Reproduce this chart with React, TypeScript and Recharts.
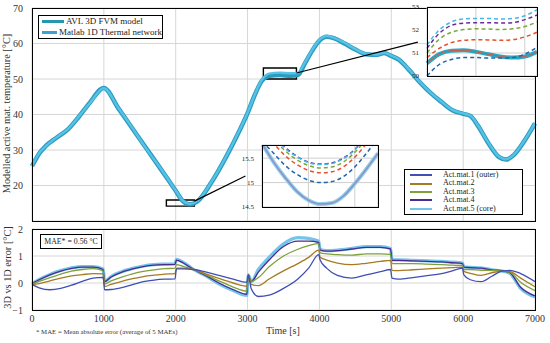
import React from "react";
import {
  LineChart,
  Line,
  XAxis,
  YAxis,
  CartesianGrid,
  ReferenceArea,
  ReferenceLine,
} from "recharts";

const FONT = "'Liberation Serif', 'DejaVu Serif', serif";

// ---- top panel: modelled temperature ----
const timeTop = [
  0, 50, 100, 200, 350, 500, 650, 800, 1000, 1200, 1400, 1600, 1800, 2000, 2100, 2200, 2300, 2500,
  2700, 2900, 3000, 3100, 3200, 3300, 3450, 3600, 3700, 3800, 3900, 4000, 4100, 4200, 4350, 4500,
  4650, 4800, 4900, 5000, 5100, 5250, 5400, 5550, 5700, 5850, 6000, 6100, 6200, 6350, 6500, 6600,
  6700, 6850, 7000,
];
const avlTemp = [
  25.5, 27.3, 29.0, 31.3, 33.6, 35.8, 39.3, 43.2, 47.5, 41.8, 36, 30.2, 24.4, 18.5, 15.6, 14.7, 15.5, 21,
  28, 36, 40.4, 45.5, 49.5, 50.9, 51.1, 50.9, 51.1, 54.5, 58, 60.8, 61.9, 61.5, 60, 58.3,
  57, 56.8, 57.3, 56.5, 55.5, 52.5, 49, 46, 43.5, 41.2, 40.2, 39.6, 37, 32, 28, 27.3,
  28.5, 32.5, 37.5,
];
const matlabTemp = [
  25.6, 27.4, 29.1, 31.2, 33.7, 35.9, 39.4, 43.1, 47.4, 41.9, 36.1, 30.1, 24.5, 18.6, 15.7, 14.8, 15.6, 21.1,
  28.1, 36.1, 40.5, 45.6, 49.8, 51.5, 51.8, 51.6, 51.7, 54.7, 58.2, 61.0, 62.1, 61.6, 60.2, 58.4,
  57.1, 56.9, 57.4, 56.6, 55.6, 52.6, 49.1, 46.1, 43.6, 41.3, 40.3, 39.7, 37.1, 32.1, 28.1, 27.4,
  28.6, 32.6, 37.6,
];

// ---- top-right inset (around t = 3250..3700 s) ----
const timeInsetA = [3250, 3300, 3350, 3400, 3450, 3500, 3550, 3600, 3650, 3700];
const insA_avl = [50.55, 50.95, 51.1, 51.12, 51.05, 50.95, 50.85, 50.8, 50.85, 51.05];
const insA_m1 = [50.0, 50.5, 50.72, 50.8, 50.8, 50.78, 50.78, 50.8, 50.95, 51.25];
const insA_m2 = [50.8, 51.2, 51.45, 51.55, 51.58, 51.57, 51.55, 51.58, 51.7, 51.9];
const insA_m3 = [51.0, 51.6, 51.9, 52.02, 52.05, 52.04, 52.02, 52.05, 52.15, 52.35];
const insA_m4 = [51.2, 51.85, 52.2, 52.3, 52.32, 52.32, 52.3, 52.32, 52.45, 52.65];
const insA_m5 = [51.35, 52.0, 52.35, 52.48, 52.5, 52.5, 52.48, 52.5, 52.62, 52.88];

// ---- lower inset (around t = 2100..2350 s) ----
const timeInsetB = [2100, 2125, 2150, 2175, 2200, 2225, 2250, 2275, 2300, 2325, 2350];
const insB_avl = [15.8, 15.42, 15.1, 14.82, 14.64, 14.56, 14.58, 14.72, 14.98, 15.28, 15.6];
const insB_m1 = [15.85, 15.6, 15.35, 15.17, 15.05, 15.0, 15.02, 15.12, 15.32, 15.6, 15.9];
const insB_m2 = [16.05, 15.8, 15.55, 15.37, 15.25, 15.2, 15.22, 15.32, 15.52, 15.8, 16.1];
const insB_m3 = [16.15, 15.9, 15.65, 15.47, 15.35, 15.3, 15.32, 15.42, 15.62, 15.9, 16.2];
const insB_m4 = [16.2, 15.95, 15.72, 15.54, 15.42, 15.38, 15.4, 15.5, 15.68, 15.95, 16.25];
const insB_m5 = [16.2, 15.95, 15.7, 15.53, 15.41, 15.37, 15.39, 15.49, 15.67, 15.94, 16.24];

// ---- bottom panel: 3D vs 1D error ----
const timeErr = [
  0, 100, 250, 400, 550, 700, 850, 990, 1010, 1100, 1250, 1400, 1550, 1700, 1850, 1990, 2010, 2100,
  2250, 2400, 2600, 2800, 2990, 3010, 3050, 3150, 3300, 3500, 3700, 3850, 3990, 4010, 4100, 4250,
  4450, 4650, 4850, 4990, 5010, 5100, 5300, 5500, 5700, 5850, 5990, 6010, 6100, 6250, 6400, 6550,
  6650, 6800, 7000,
];
const errMat1 = [
  -0.05, -0.18, -0.25, -0.2, -0.08, 0.06, 0.18, 0.21, -0.25, -0.24, -0.17, -0.06, 0.05, 0.11, 0.14, 0.15, 0.52, 0.52,
  0.5, 0.42, 0.28, 0.14, 0.03, 0.3, -0.2, -0.5, -0.45, -0.2, 0.15, 0.55, 1.05, 0.85, 0.55, 0.28,
  0.18, 0.3, 0.42, 0.5, 0.18, 0.14, 0.2, 0.27, 0.35, 0.45, 0.55, 0.3, 0.12, 0.05, 0.25, 0.45,
  0.47, 0.35, 0.05,
];
const errMat2 = [
  -0.05, -0.02, 0.08, 0.18, 0.26, 0.31, 0.35, 0.34, -0.13, -0.05, 0.06, 0.16, 0.24, 0.29, 0.33, 0.35, 0.55, 0.55,
  0.5, 0.36, 0.17, 0.0, -0.12, 0.3, -0.05, -0.1, 0.15, 0.45, 0.72, 0.95, 1.22, 0.95, 0.85, 0.74,
  0.68, 0.73, 0.8, 0.84, 0.47, 0.46, 0.49, 0.52, 0.55, 0.57, 0.59, 0.43, 0.36, 0.28, 0.38, 0.43,
  0.42, 0.18, -0.14,
];
const errMat3 = [
  -0.04, 0.06, 0.2, 0.33, 0.44, 0.5, 0.53, 0.45, -0.04, 0.08, 0.22, 0.34, 0.43, 0.49, 0.53, 0.55, 0.68, 0.62,
  0.5, 0.33, 0.08, -0.15, -0.3, 0.3, 0.05, 0.2, 0.6, 1.0, 1.25, 1.38, 1.47, 1.12, 1.08, 1.05,
  1.03, 1.08, 1.08, 1.06, 0.72, 0.72, 0.72, 0.7, 0.68, 0.66, 0.65, 0.5, 0.5, 0.47, 0.47, 0.44,
  0.4, 0.03, -0.28,
];
const errMat4 = [
  -0.02, 0.12, 0.3, 0.44, 0.54, 0.59, 0.59, 0.5, 0.05, 0.22, 0.4, 0.52, 0.61, 0.66, 0.68, 0.69, 0.85, 0.75,
  0.5, 0.3, 0.0, -0.25, -0.42, 0.3, 0.05, 0.4, 0.85, 1.35, 1.55, 1.55, 1.5, 1.22, 1.18, 1.2,
  1.26, 1.32, 1.32, 1.26, 0.84, 0.84, 0.82, 0.8, 0.78, 0.75, 0.72, 0.59, 0.57, 0.55, 0.49, 0.45,
  0.38, -0.16, -0.48,
];
const errMat5 = [
  -0.03, 0.13, 0.32, 0.46, 0.56, 0.61, 0.61, 0.52, 0.06, 0.24, 0.42, 0.54, 0.63, 0.68, 0.7, 0.71, 0.88, 0.77,
  0.5, 0.29, -0.03, -0.28, -0.46, 0.3, 0.05, 0.5, 0.95, 1.45, 1.68, 1.65, 1.55, 1.24, 1.2, 1.22,
  1.28, 1.35, 1.35, 1.28, 0.86, 0.86, 0.84, 0.82, 0.8, 0.77, 0.74, 0.6, 0.58, 0.56, 0.49, 0.44,
  0.36, -0.2, -0.52,
];

const timeTicks = [0, 1000, 2000, 3000, 4000, 5000, 6000, 7000];
const tempTicks = [10, 20, 30, 40, 50, 60, 70];
const errTicks = [-1, 0, 1, 2];
const matLabels = ["Act.mat.1 (outer)", "Act.mat.2", "Act.mat.3", "Act.mat.4", "Act.mat.5 (core)"];
const matColors = ["#3f4fb5", "#a57a22", "#7fa03a", "#4a2c8f", "#74c4ec"];
const insetColors = ["#1f64b0", "#e6502c", "#7aa83a", "#6a2a9a", "#45b9e3"];

const topData = timeTop.map((t, i) => ({ t, avl: avlTemp[i], matlab: matlabTemp[i] }));
const errData = timeErr.map((t, i) => ({
  t,
  m1: errMat1[i],
  m2: errMat2[i],
  m3: errMat3[i],
  m4: errMat4[i],
  m5: errMat5[i],
}));
const insAData = timeInsetA.map((t, i) => ({
  t,
  avl: insA_avl[i],
  m1: insA_m1[i],
  m2: insA_m2[i],
  m3: insA_m3[i],
  m4: insA_m4[i],
  m5: insA_m5[i],
}));
const insBData = timeInsetB.map((t, i) => ({
  t,
  avl: insB_avl[i],
  m1: insB_m1[i],
  m2: insB_m2[i],
  m3: insB_m3[i],
  m4: insB_m4[i],
  m5: insB_m5[i],
}));

const tickStyle = { fontSize: 10, fill: "#333", fontFamily: FONT };
const small = { fontSize: 7, fill: "#222", fontFamily: FONT };
const minus = (v: number) => String(v).replace("-", "\u2212");

const abs = (left: number, top: number): React.CSSProperties => ({ position: "absolute", left, top });
const frame = (left: number, top: number, width: number, height: number): React.CSSProperties => ({
  position: "absolute",
  left,
  top,
  width,
  height,
  border: "1.4px solid #000",
  boxSizing: "border-box",
  pointerEvents: "none",
});

const dashed = (key: string, color: string) => (
  <Line key={key} type="monotone" dataKey={key} stroke={color} strokeWidth={1.5} strokeDasharray="4 3" dot={false} isAnimationActive={false} />
);

export default function App() {
  return (
    <div style={{ position: "absolute", left: 0, top: 0, width: 550, height: 343, background: "#fff", fontFamily: FONT }}>
      {/* main temperature panel */}
      <div style={abs(0, 0)}>
        <LineChart width={550} height={221} data={topData} margin={{ top: 8, right: 15, bottom: 0, left: 0 }}>
          <CartesianGrid stroke="#d6d6d6" strokeWidth={1} />
          <XAxis dataKey="t" type="number" domain={[0, 7000]} ticks={timeTicks} hide />
          <YAxis type="number" domain={[10, 70]} ticks={tempTicks} width={32} tick={tickStyle} tickLine={false} axisLine={false} tickMargin={3} />
          <Line type="monotone" dataKey="avl" stroke="#2b9bbf" strokeWidth={4.5} dot={false} isAnimationActive={false} />
          <Line type="monotone" dataKey="matlab" stroke="#56c2e6" strokeWidth={2.4} dot={false} isAnimationActive={false} />
          <ReferenceArea x1={3220} x2={3680} y1={50} y2={53.1} fill="#fff" fillOpacity={0} stroke="#000" strokeWidth={1.4} />
          <ReferenceArea x1={1870} x2={2260} y1={14.2} y2={15.9} fill="#fff" fillOpacity={0} stroke="#000" strokeWidth={1.4} />
          <ReferenceLine segment={[{ x: 3680, y: 51.7 }, { x: 5370, y: 60.4 }]} stroke="#000" strokeWidth={1.2} />
          <ReferenceLine segment={[{ x: 2260, y: 15.6 }, { x: 2970, y: 22.7 }]} stroke="#000" strokeWidth={1.2} />
        </LineChart>
      </div>
      <div style={frame(32, 8, 504, 214)} />

      {/* error panel */}
      <div style={abs(0, 0)}>
        <LineChart width={550} height={332} data={errData} margin={{ top: 229, right: 15, bottom: 0, left: 0 }}>
          <CartesianGrid stroke="#d6d6d6" strokeWidth={1} />
          <XAxis dataKey="t" type="number" domain={[0, 7000]} ticks={timeTicks} height={22} tick={tickStyle} tickLine={false} tickSize={3} axisLine={false} />
          <YAxis type="number" domain={[-1, 2]} ticks={errTicks} width={32} tick={tickStyle} tickFormatter={minus} tickLine={false} axisLine={false} tickMargin={3} />
          <Line type="monotone" dataKey="m5" stroke={matColors[4]} strokeWidth={3.2} dot={false} isAnimationActive={false} />
          <Line type="monotone" dataKey="m4" stroke={matColors[3]} strokeWidth={1.3} dot={false} isAnimationActive={false} />
          <Line type="monotone" dataKey="m3" stroke={matColors[2]} strokeWidth={1.3} dot={false} isAnimationActive={false} />
          <Line type="monotone" dataKey="m2" stroke={matColors[1]} strokeWidth={1.3} dot={false} isAnimationActive={false} />
          <Line type="monotone" dataKey="m1" stroke={matColors[0]} strokeWidth={1.3} dot={false} isAnimationActive={false} />
        </LineChart>
      </div>
      <div style={frame(32, 229, 504, 82)} />

      {/* top-right inset */}
      <div style={abs(405, 0)}>
        <LineChart width={140} height={86} data={insAData} margin={{ top: 7, right: 8, bottom: 10, left: 0 }}>
          <CartesianGrid stroke="#cfcfcf" fill="#fff" />
          <XAxis dataKey="t" type="number" domain={[3250, 3700]} ticks={[3350, 3450, 3550, 3650]} hide />
          <YAxis type="number" domain={[50, 53]} ticks={[50, 51, 52, 53]} width={22} tick={small} tickLine={false} axisLine={false} tickMargin={2} allowDataOverflow />
          <Line type="monotone" dataKey="avl" stroke="#2aa8c0" strokeWidth={4} dot={false} isAnimationActive={false} />
          <Line type="monotone" dataKey="avl" stroke="#d8574a" strokeWidth={1} dot={false} isAnimationActive={false} />
          {dashed("m1", insetColors[0])}
          {dashed("m2", insetColors[1])}
          {dashed("m3", insetColors[2])}
          {dashed("m4", insetColors[3])}
          {dashed("m5", insetColors[4])}
        </LineChart>
      </div>
      <div style={frame(427, 7, 111, 70)} />

      {/* lower inset */}
      <div style={abs(236, 0)}>
        <LineChart width={147} height={217} data={insBData} margin={{ top: 145, right: 5, bottom: 10, left: 0 }}>
          <CartesianGrid stroke="#cfcfcf" fill="#fff" />
          <XAxis dataKey="t" type="number" domain={[2100, 2350]} ticks={[2150, 2200, 2250, 2300]} hide />
          <YAxis type="number" domain={[14.5, 15.77]} ticks={[14.5, 15, 15.5]} width={26} tick={small} tickLine={false} axisLine={false} tickMargin={2} allowDataOverflow />
          <Line type="monotone" dataKey="avl" stroke="#8fd0ea" strokeWidth={4} dot={false} isAnimationActive={false} />
          <Line type="monotone" dataKey="avl" stroke="#8c92c8" strokeWidth={1.6} dot={false} isAnimationActive={false} />
          {dashed("m1", insetColors[0])}
          {dashed("m2", insetColors[1])}
          {dashed("m3", insetColors[2])}
          {dashed("m4", insetColors[3])}
          {dashed("m5", insetColors[4])}
        </LineChart>
      </div>
      <div style={frame(262, 145, 117, 63)} />

      {/* model legend */}
      <div style={{ ...abs(38, 15), width: 123, height: 22, border: "1.5px solid #000", background: "#fff", fontSize: 9, lineHeight: "11px", whiteSpace: "nowrap" }}>
        {[["AVL 3D FVM model", "#2596ad"], ["Matlab 1D Thermal network", "#3aa3d4"]].map(([label, c]) => (
          <div key={label} style={{ display: "flex", alignItems: "center", height: 11 }}>
            <span style={{ display: "inline-block", width: 22, height: 2.5, background: c, marginLeft: 3, marginRight: 2 }} />
            <span style={{ color: "#222" }}>{label}</span>
          </div>
        ))}
      </div>

      {/* material legend */}
      <div style={{ ...abs(404, 169), width: 117, height: 43, border: "1.5px solid #000", background: "#fff", fontSize: 8, lineHeight: "8.4px", whiteSpace: "nowrap", paddingTop: 1, boxSizing: "content-box" }}>
        {matLabels.map((label, i) => (
          <div key={label} style={{ display: "flex", alignItems: "center", height: 8.4 }}>
            <span style={{ display: "inline-block", width: 22, height: 2, background: matColors[i], marginLeft: 5, marginRight: 11 }} />
            <span style={{ color: "#222" }}>{label}</span>
          </div>
        ))}
      </div>

      {/* MAE box */}
      <div style={{ ...abs(40, 234), width: 60, height: 13, border: "1.5px solid #000", background: "#fff", fontSize: 7.8, lineHeight: "13px", textAlign: "center", color: "#222", whiteSpace: "nowrap" }}>
        MAE* = 0.56 °C
      </div>

      {/* axis titles and note */}
      <div style={{ ...abs(-84, 108), width: 180, textAlign: "center", transform: "rotate(-90deg)", fontSize: 10.3, color: "#333", whiteSpace: "nowrap" }}>
        Modelled active mat. temperature [°C]
      </div>
      <div style={{ ...abs(-38, 262), width: 90, textAlign: "center", transform: "rotate(-90deg)", fontSize: 10.3, color: "#333", whiteSpace: "nowrap" }}>
        3D vs 1D error [°C]
      </div>
      <div style={{ ...abs(266, 325), fontSize: 10, color: "#333", whiteSpace: "nowrap" }}>Time [s]</div>
      <div style={{ ...abs(36, 328), fontSize: 6.8, color: "#333", whiteSpace: "nowrap" }}>
        * MAE = Mean absolute error (average of 5 MAEs)
      </div>
    </div>
  );
}
